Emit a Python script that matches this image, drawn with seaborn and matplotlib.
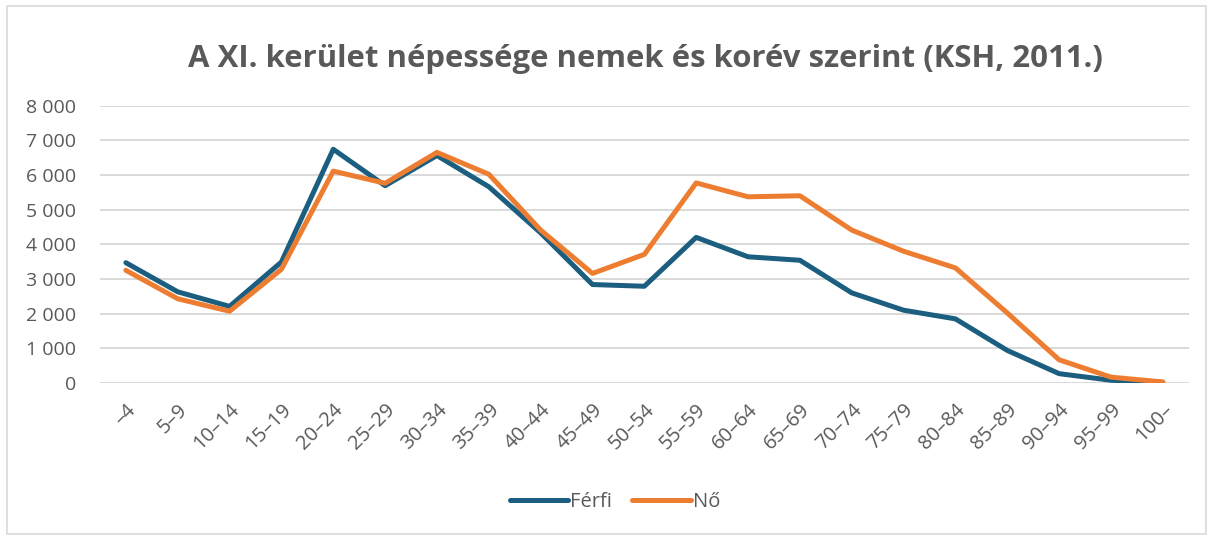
import numpy as np
import pandas as pd
import seaborn as sns
import matplotlib.pyplot as plt
from matplotlib.patches import Rectangle
from matplotlib.ticker import FuncFormatter

age_groups = ["–4", "5–9", "10–14", "15–19", "20–24", "25–29", "30–34", "35–39",
              "40–44", "45–49", "50–54", "55–59", "60–64", "65–69", "70–74",
              "75–79", "80–84", "85–89", "90–94", "95–99", "100–"]
ferfi = [3470, 2630, 2210, 3490, 6740, 5690, 6560, 5660, 4330, 2840, 2790,
         4200, 3640, 3540, 2600, 2100, 1850, 940, 270, 80, 20]
no = [3250, 2430, 2070, 3280, 6110, 5760, 6650, 6020, 4410, 3160, 3710,
      5770, 5370, 5400, 4410, 3800, 3320, 2020, 670, 170, 30]

series_names = ["Férfi", "Nő"]
colors = ["#1b5e80", "#ed7d31"]

df = pd.DataFrame({
    "Korév": age_groups * 2,
    "Népesség": ferfi + no,
    "Nem": [series_names[0]] * len(age_groups) + [series_names[1]] * len(age_groups),
})

sns.set_theme(style="white")
plt.rcParams['font.family'] = ['Open Sans', 'DejaVu Sans']
grey = "#595959"

fig = plt.figure(figsize=(12.13, 5.36), dpi=100)
ax = fig.add_axes([0.0824, 0.2854, 0.8976, 0.5176])

sns.lineplot(data=df, x="Korév", y="Népesség", hue="Nem", palette=colors,
             sort=False, linewidth=3.6, ax=ax, legend=True)
for ln in ax.get_lines():
    ln.set_solid_joinstyle("round")

ax.set_xlim(-0.5, len(age_groups) - 0.5)
ax.set_ylim(0, 8000)
ax.set_yticks(range(0, 8001, 1000))
ax.yaxis.set_major_formatter(FuncFormatter(lambda v, p: f"{int(v):,}".replace(",", " ")))
ax.grid(axis="y", color="#d9d9d9", linewidth=1.4)
ax.set_axisbelow(True)
for s in ax.spines.values():
    s.set_visible(False)
ax.set_xlabel("")
ax.set_ylabel("")
ax.tick_params(axis="y", labelsize=14, labelcolor=grey, length=0, pad=17)
ax.tick_params(axis="x", labelsize=14.5, labelcolor=grey, length=0, pad=12)
plt.setp(ax.get_xticklabels(), rotation=45, ha="right", rotation_mode="anchor")

handles, labels = ax.get_legend_handles_labels()
for h in handles:
    h.set_solid_capstyle("round")
ax.legend(handles, labels, loc="center", bbox_to_anchor=(0.507, 0.063),
          bbox_transform=fig.transFigure, ncol=2, frameon=False,
          fontsize=14.5, labelcolor=grey, handlelength=2.9,
          handletextpad=0.1, columnspacing=1.0)

fig.text(0.532, 0.89, "A XI. kerület népessége nemek és korév szerint (KSH, 2011.)",
         ha="center", va="center", fontsize=22.4, fontweight="bold", color=grey)

fig.patches.append(Rectangle((0.006, 0.004), 0.988, 0.985, transform=fig.transFigure,
                             fill=False, edgecolor="#d9d9d9", linewidth=1.2))

fig.savefig("out.png", dpi=100)
